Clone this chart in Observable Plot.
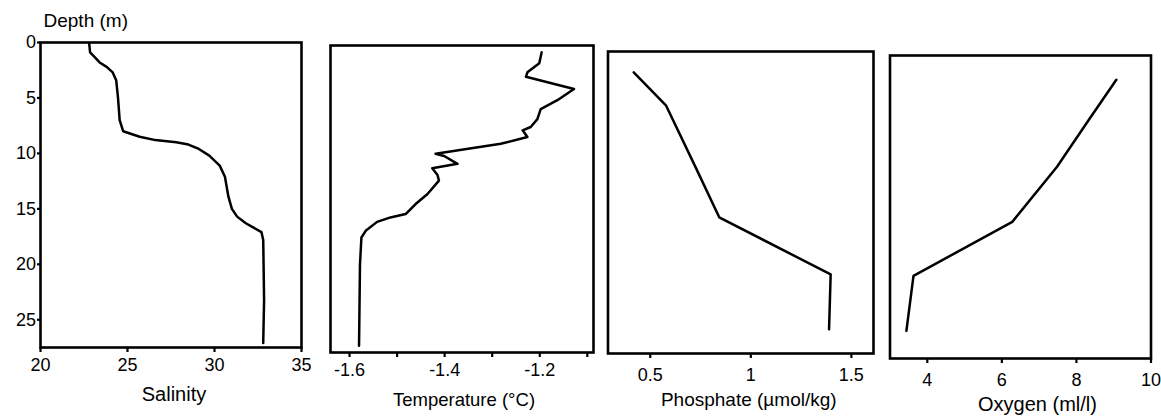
<!DOCTYPE html>
<html><head><meta charset="utf-8">
<script src="https://cdn.jsdelivr.net/npm/d3@7"></script>
<script src="https://cdn.jsdelivr.net/npm/@observablehq/plot@0.6"></script>
<style>
body{margin:0;background:#fff;}
#wrap{position:relative;width:1161px;height:416px;overflow:hidden;background:#fff;}
#wrap svg{position:absolute;top:0;}
</style></head><body><div id="wrap"></div>
<script>
// ---- data ----
const depthTicks = [0, 5, 10, 15, 20, 25];

const salinityDepth = [0.1, 0.9, 1.3, 1.8, 2.2, 2.7, 3.4, 4.9, 7.0, 8.0, 8.5, 8.8, 9.0, 9.2, 9.6, 10.2, 11.1, 12.1, 13.9, 15.0, 15.7, 16.3, 17.1, 17.8, 23.2, 27.1];
const salinityValue = [22.8, 22.85, 23.1, 23.4, 23.8, 24.15, 24.35, 24.45, 24.55, 24.75, 25.7, 26.6, 27.8, 28.5, 29.1, 29.7, 30.3, 30.6, 30.8, 31.0, 31.3, 31.8, 32.7, 32.8, 32.85, 32.8];
const salinityTicks = [20, 25, 30, 35];

const temperatureDepth = [0.6, 1.6, 2.4, 2.8, 3.9, 4.5, 4.9, 5.7, 6.6, 7.3, 7.6, 8.2, 8.8, 9.7, 9.9, 10.6, 11.0, 11.6, 12.1, 13.3, 14.2, 15.1, 15.4, 15.8, 16.6, 17.2, 19.6, 26.9];
const temperatureValue = [-1.196, -1.201, -1.226, -1.229, -1.128, -1.149, -1.163, -1.198, -1.205, -1.219, -1.236, -1.226, -1.282, -1.419, -1.401, -1.373, -1.426, -1.415, -1.412, -1.436, -1.461, -1.482, -1.514, -1.542, -1.566, -1.575, -1.578, -1.58];
const temperatureTicks = [-1.6, -1.5, -1.4, -1.3, -1.2, -1.1];
const temperatureTickLabels = ["-1.6", "", "-1.4", "", "-1.2", ""];

const phosphateDepth = [1.9, 4.9, 10.6, 15.1, 20.3, 25.3];
const phosphateValue = [0.418, 0.578, 0.727, 0.843, 1.397, 1.389];
const phosphateTicks = [0.5, 1, 1.5];
const phosphateTickLabels = ["0.5", "1", "1.5"];

const oxygenDepth = [2.2, 5.9, 10.1, 15.1, 20.0, 25.0];
const oxygenValue = [9.07, 8.32, 7.48, 6.28, 3.63, 3.44];
const oxygenTicks = [4, 6, 8, 10];
const oxygenTickLabels = ["4", "6", "8", "10"];

const depthLabel = "Depth (m)";

// ---- layout per panel ----
const FONT = "'Liberation Sans', Arial, Helvetica, sans-serif";
const panels = [
  {left: 0, width: 320, mt: 42, mb: 69, ml: 40, mr: 19, domain: [20, 35], depth: salinityDepth, value: salinityValue,
   ticks: salinityTicks, labels: salinityTicks.map(String), pad: 6, label: "Salinity", lfs: 20, ldy: 53, ldx: 3, yAxis: true},
  {left: 310, width: 300, mt: 45, mb: 64, ml: 20, mr: 17, domain: [-1.64, -1.087], depth: temperatureDepth, value: temperatureValue,
   ticks: temperatureTicks, labels: temperatureTickLabels, pad: 6, label: "Temperature (°C)", lfs: 18.5, ldy: 53, ldx: 2},
  {left: 590, width: 300, mt: 51, mb: 63, ml: 17.5, mr: 17, domain: [0.29, 1.61], depth: phosphateDepth, value: phosphateValue,
   ticks: phosphateTicks, labels: phosphateTickLabels, pad: 10, label: "Phosphate (µmol/kg)", lfs: 19, ldy: 52, ldx: 8},
  {left: 870, width: 291, mt: 55, mb: 58, ml: 19.5, mr: 10.5, domain: [3, 10], depth: oxygenDepth, value: oxygenValue,
   ticks: oxygenTicks, labels: oxygenTickLabels, pad: 10, label: "Oxygen (ml/l)", lfs: 20, ldy: 52.5, ldx: 17}
];

const wrap = document.getElementById("wrap");
for (const p of panels) {
  const rows = p.depth.map((d, i) => ({depth: d, value: p.value[i]}));
  const fmt = d => {
    const i = p.ticks.findIndex(t => Math.abs(t - d) < 1e-9);
    return i >= 0 ? p.labels[i] : "";
  };
  const marks = [
    Plot.axisX({ticks: p.ticks, tickFormat: fmt, tickSize: 5, tickPadding: p.pad, strokeWidth: 2.2, label: null, fontSize: 18}),
    Plot.line(rows, {x: "value", y: "depth", stroke: "black", strokeWidth: 2.5, strokeLinejoin: "round"}),
    Plot.frame({stroke: "black", strokeWidth: 2.6}),
    Plot.text([p.label], {text: d => d, frameAnchor: "bottom", lineAnchor: "bottom", dy: p.ldy, dx: p.ldx, fontSize: p.lfs, fill: "black"})
  ];
  if (p.yAxis) {
    marks.unshift(Plot.axisY({ticks: depthTicks, tickFormat: d => String(d), tickSize: 3, tickPadding: 1.5, strokeWidth: 2.2, label: null, fontSize: 18}));
    marks.push(Plot.text([depthLabel], {text: d => d, frameAnchor: "top-left", textAnchor: "start", lineAnchor: "bottom", dx: 3, dy: -15.5, fontSize: 19, fill: "black"}));
  }
  const chart = Plot.plot({
    width: p.width,
    height: 416,
    marginTop: p.mt,
    marginBottom: p.mb,
    marginLeft: p.ml,
    marginRight: p.mr,
    x: {domain: p.domain},
    y: {domain: [0, 27.5], reverse: true, axis: p.yAxis ? undefined : null},
    style: {fontFamily: FONT, fontSize: "18px", background: "transparent", color: "black", overflow: "visible"},
    marks
  });
  chart.style.left = p.left + "px";
  wrap.appendChild(chart);
}
</script>
</body></html>
